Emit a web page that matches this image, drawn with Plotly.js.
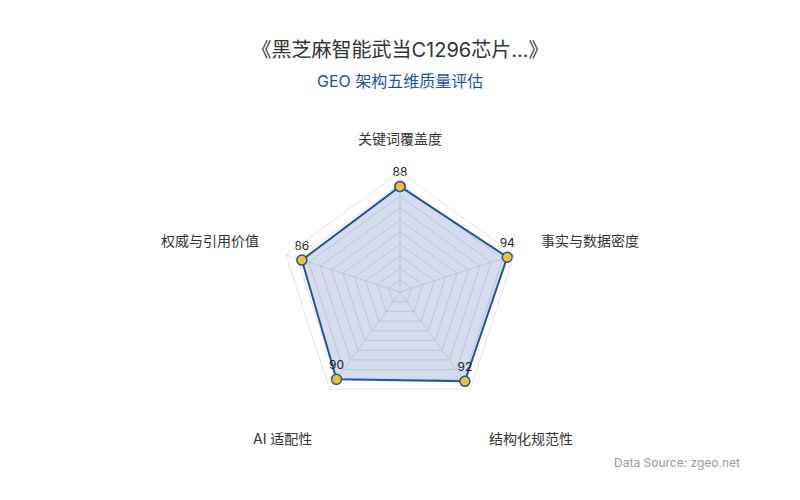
<!DOCTYPE html>
<html>
<head>
<meta charset="utf-8">
<script src="https://cdn.plot.ly/plotly-3.0.1.min.js"></script>
<style>
  html, body { margin: 0; padding: 0; background: #fff; }
  #chart { width: 800px; height: 500px; }
</style>
</head>
<body>
<div id="chart"></div>
<script>
// GEO five-dimension radar
var dimensions = ['关键词覆盖度', '事实与数据密度', '结构化规范性', 'AI 适配性', '权威与引用价值'];
var scores = [88, 94, 92, 90, 86];

var FONT = 'Inter, "Noto Sans CJK SC", sans-serif';
var BLUE = '#2353a3';
var W = 800, H = 500;

// where each indicator name sits (pixels), like the echarts radar names
var namePos = [
  { x: 400, y: 138, xa: 'center' },
  { x: 539, y: 240, xa: 'left' },
  { x: 531, y: 438, xa: 'center' },
  { x: 282, y: 438, xa: 'center' },
  { x: 261, y: 240, xa: 'right' }
];

// close the polygon
var r = scores.concat([scores[0]]);
var theta = dimensions.concat([dimensions[0]]);
var labels = scores.map(String).concat(['']);

var trace = {
  type: 'scatterpolar',
  r: r,
  theta: theta,
  mode: 'lines+markers+text',
  fill: 'toself',
  fillcolor: 'rgba(35,83,163,0.2)',
  line: { color: BLUE, width: 2 },
  marker: { color: '#f2c12e', size: 10, line: { color: BLUE, width: 1.5 } },
  text: labels,
  textposition: 'top center',
  textfont: { family: FONT, size: 12, color: '#222' },
  hoverinfo: 'skip',
  cliponaxis: false
};

var annotations = dimensions.map(function (name, i) {
  var p = namePos[i];
  return {
    text: name,
    xref: 'paper', yref: 'paper',
    x: p.x / W, y: 1 - p.y / H,
    xanchor: p.xa, yanchor: 'middle',
    showarrow: false,
    font: { family: FONT, size: 14, color: '#333' }
  };
});

annotations.push({
  text: 'GEO 架构五维质量评估',
  xref: 'paper', yref: 'paper',
  x: 0.5, y: 0.838, xanchor: 'center', yanchor: 'middle',
  showarrow: false,
  font: { family: FONT, size: 16, color: BLUE }
});
annotations.push({
  text: 'Data Source: zgeo.net',
  xref: 'paper', yref: 'paper',
  x: 0.927, y: 0.076, xanchor: 'right', yanchor: 'middle',
  showarrow: false,
  font: { family: FONT, size: 12, color: '#999' }
});

var layout = {
  width: W,
  height: H,
  margin: { t: 0, r: 0, b: 0, l: 0 },
  paper_bgcolor: '#fff',
  showlegend: false,
  title: {
    text: '《黑芝麻智能武当C1296芯片...》',
    font: { family: FONT, size: 20, color: '#333' },
    x: 0.5, xanchor: 'center',
    y: 0.9, yanchor: 'middle'
  },
  polar: {
    domain: { x: [0.35, 0.65], y: [0.176, 0.656] },
    gridshape: 'linear',
    bgcolor: 'rgba(0,0,0,0)',
    radialaxis: {
      range: [0, 100],
      dtick: 10,
      showticklabels: false,
      ticks: '',
      showline: false,
      gridcolor: '#e3e3e3',
      gridwidth: 1
    },
    angularaxis: {
      rotation: 90,
      direction: 'clockwise',
      showticklabels: false,
      ticks: '',
      linecolor: '#e3e3e3',
      gridcolor: '#e3e3e3'
    }
  },
  annotations: annotations
};

Plotly.newPlot('chart', [trace], layout, { displayModeBar: false, staticPlot: true });
</script>
</body>
</html>
